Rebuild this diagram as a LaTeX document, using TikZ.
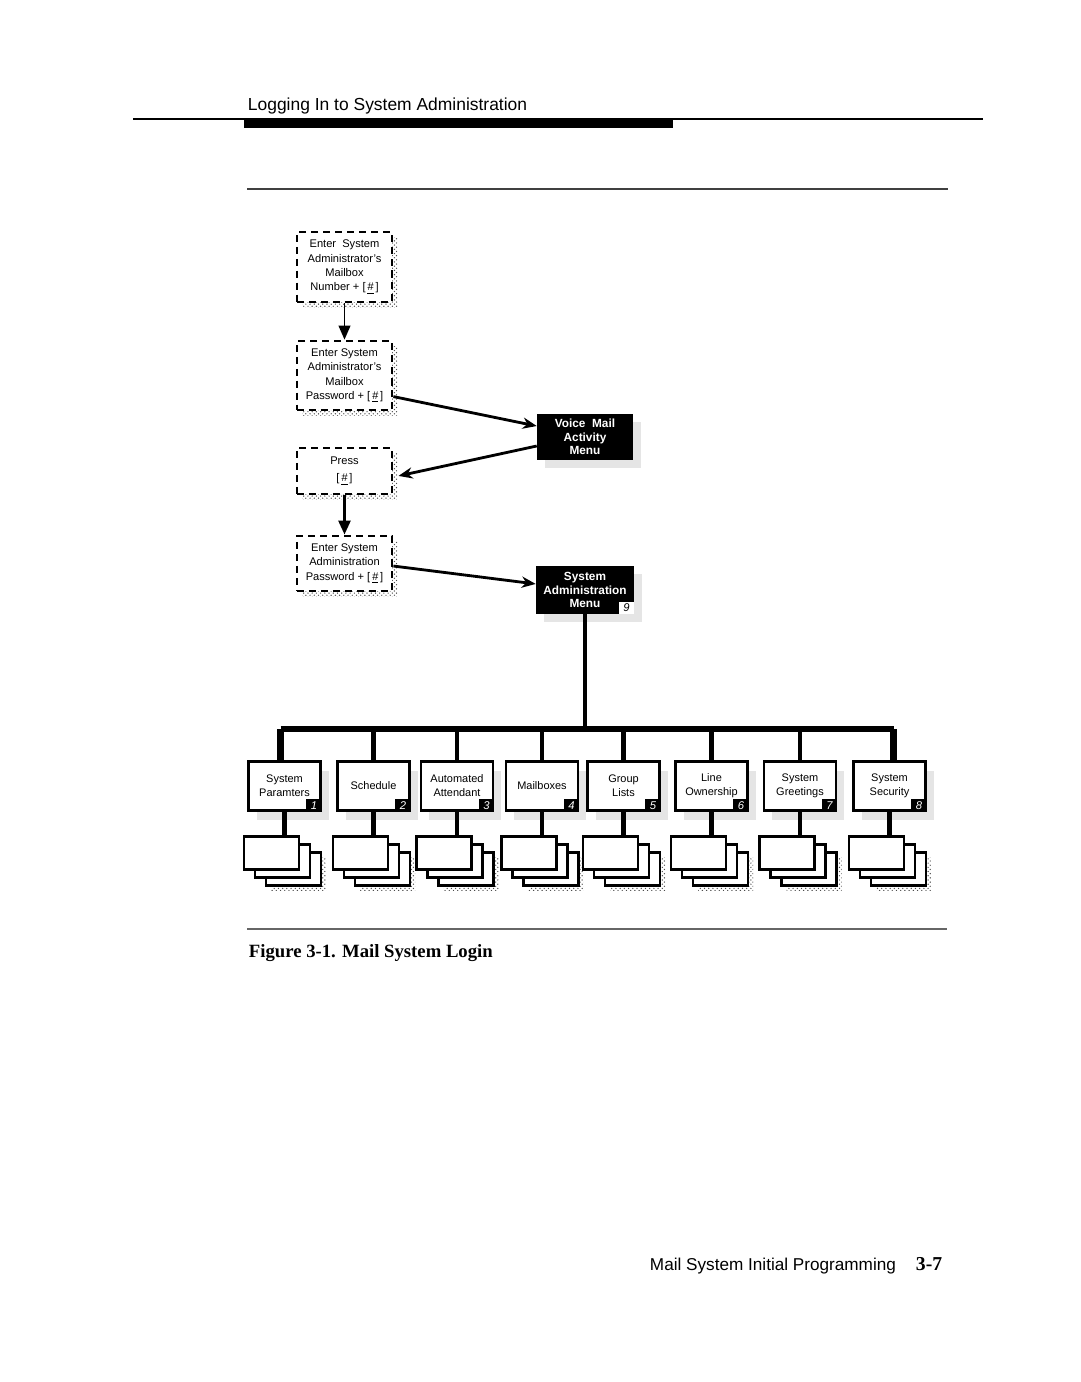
\documentclass[tikz,border=0pt]{standalone}
\usepackage{fontspec}
\setsansfont{Liberation Sans}
\newfontfamily\capfont{Liberation Serif}
\usetikzlibrary{arrows.meta,positioning,shadows,patterns,calc}

\newcommand{\keyhash}{[\,\underline{\itshape\#}\,]}

\begin{document}
\begin{tikzpicture}[x=0.025cm,y=-0.025cm,
    every node/.style={font=\sffamily},
    entrybox/.style={rectangle,draw,line width=2pt,dash pattern=on 5pt off 3.5pt,
        fill=white,align=center,inner sep=0pt,minimum width=2.375cm,
        font=\sffamily\fontsize{7.9}{10.2}\selectfont,
        general shadow={pattern=crosshatch dots,pattern color=black!70,
            shadow xshift=3.6pt,shadow yshift=-3.6pt}},
    darkbox/.style={rectangle,fill=black,text=white,align=center,inner sep=0pt,
        minimum width=2.4cm,minimum height=1.15cm,
        font=\sffamily\bfseries\fontsize{8.4}{9.6}\selectfont,
        general shadow={fill=black!10,shadow xshift=5.7pt,shadow yshift=-5.7pt}},
    menubox/.style={rectangle,draw,line width=1.8pt,fill=white,align=center,
        inner sep=0pt,minimum width=1.8cm,minimum height=1.225cm,
        font=\sffamily\fontsize{7.8}{10}\selectfont,
        general shadow={fill=black!10,shadow xshift=5.7pt,shadow yshift=-6.4pt}},
    numtag/.style={rectangle,fill=black,text=white,inner sep=0pt,
        minimum width=0.375cm,minimum height=0.3cm,
        font=\sffamily\itshape\fontsize{8}{8}\selectfont},
    pagebox/.style={rectangle,draw,line width=1.6pt,fill=white,inner sep=0pt,
        minimum width=1.375cm,minimum height=0.825cm},
    flow/.style={line width=2pt,-{Stealth[length=10pt,width=8pt]}},
    down/.style={-{Triangle[length=10pt,width=8.5pt]}}
]
\useasboundingbox (0,0) rectangle (1080,1382);

% page header
\draw[line width=1pt] (133,119) -- (983,119);
\fill (244,119) rectangle (673,128);
\node[anchor=base west,font=\sffamily\fontsize{12.4}{14}\selectfont] (title) at (243,110)
    {Logging In to System Administration};
\draw[line width=1.2pt,black!75] (247,189) -- (948,189);

% login steps
\node[entrybox,minimum height=1.75cm] (in1) at (344.5,267)
    {Enter\ \ System\\Administrator's\\Mailbox\\Number + \keyhash};
\node[entrybox,minimum height=1.725cm] (in2) at (344.5,375.5)
    {Enter System\\Administrator's\\Mailbox\\Password + \keyhash};
\node[entrybox,minimum height=1.15cm,font=\sffamily\fontsize{7.9}{12}\selectfont] (in3) at (344.5,471)
    {Press\\\keyhash};
\node[entrybox,minimum height=1.375cm] (in4) at (344.5,563.5)
    {Enter System\\Administration\\Password + \keyhash};

% menus
\node[darkbox] (vm) at (585,437) {Voice\ \ Mail\\Activity\\Menu};
\node[darkbox,minimum width=2.45cm,minimum height=1.2cm] (sa) at (585,590)
    {System\\Administration\\Menu};
\node[numtag,fill=white,text=black,anchor=south east] (t9) at (sa.south east) {9};

\draw[line width=1pt,down] (in1) -- (in2);
\draw[line width=2pt,down] (in3) -- (in4);
\draw[flow] ([yshift=-15pt]in2.east) -- ([yshift=7.8pt]vm.west);
\draw[flow] ([yshift=-6.4pt]vm.west) -- ([xshift=3.6pt,yshift=-3.5pt]in3.east);
\draw[flow] ([yshift=-1.8pt]in4.east) -- ([yshift=4.3pt]sa.west);

% system administration submenus
\foreach \x/\n/\t in {284.5/1/{System\\Paramters},373.5/2/Schedule,
    457/3/{Automated\\Attendant},542/4/Mailboxes,623.5/5/{Group\\Lists},
    711.5/6/{Line\\Ownership},800/7/{System\\Greetings},889.5/8/{System\\Security}}{
  \node[menubox] (b\n) at (\x,786) {\t};
  \node[numtag,anchor=south east] (t\n) at (b\n.south east) {\n};
  % stacked screens
  \node[pagebox,general shadow={pattern=crosshatch dots,pattern color=black!70,
      shadow xshift=3.6pt,shadow yshift=-3.6pt}] (r\n) at ({\x+9},869) {};
  \node[pagebox] (q\n) at ({\x-2},861) {};
  \node[pagebox] (s\n) at ({\x-13},853) {};
  \draw[line width=3.5pt] (b\n.south) -- (b\n.south |- s\n.north);
}

\coordinate (busL) at ($(b1.north)+(-4,-31)$);
\coordinate (busR) at ($(b8.north)+(4,-31)$);
\draw[line width=2.2pt] (sa.south) -- (sa.south |- busL);
\draw[line width=4.3pt] (busL) -- (busR);
\foreach \n in {2,...,7}
  \draw[line width=3pt] (b\n.north |- busL) -- (b\n.north);
\draw[line width=5pt] ([xshift=-2.8pt]b1.north |- busL) -- ([xshift=-2.8pt]b1.north);
\draw[line width=5pt] ([xshift=2.8pt]b8.north |- busL) -- ([xshift=2.8pt]b8.north);

% caption and footer
\draw[line width=0.8pt,black!60] (247,929) -- (947,929);
\node[anchor=base west,font=\capfont\bfseries\fontsize{13.3}{15}\selectfont] (cap) at (244,957)
    {Figure 3-1. Mail System Login};
\node[anchor=base west,font=\sffamily\fontsize{12.2}{14}\selectfont] (foot) at (645,1270)
    {Mail System Initial Programming};
\node[anchor=base west,font=\capfont\bfseries\fontsize{14}{16}\selectfont] (pg) at (911,1270) {3-7};
\end{tikzpicture}
\end{document}
